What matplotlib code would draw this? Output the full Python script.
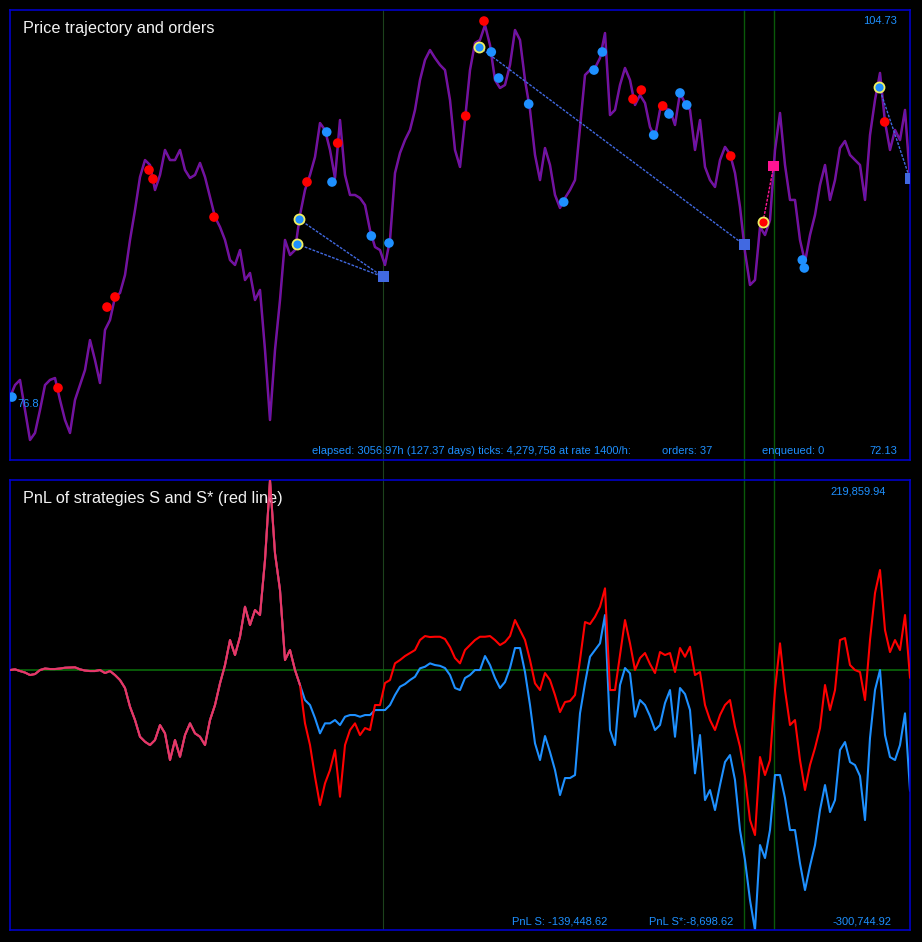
import numpy as np
import matplotlib
matplotlib.use("Agg")
import matplotlib.pyplot as plt

plt.rcParams['font.family'] = ['Liberation Sans', 'DejaVu Sans']

#### Data ####

HOURS = 3056.97

# price path, sampled evenly over the elapsed hours
price = [
    76.69, 77.56, 77.93, 75.75, 73.58, 74.09, 75.75, 77.56, 77.93, 78.07,
    76.48, 75.03, 74.09, 76.48, 77.56, 78.65, 80.82, 79.37, 77.71, 81.55,
    82.27, 83.94, 84.23, 85.53, 88.07, 90.24, 92.63, 93.86, 93.50, 91.69,
    92.78, 94.59, 93.86, 93.86, 94.59, 93.14, 92.56, 92.78, 93.65, 92.63,
    91.18, 89.73, 89.01, 88.07, 86.62, 86.26, 87.34, 85.17, 85.68, 83.72,
    84.45, 80.10, 75.03, 80.10, 83.72, 88.07, 86.98, 87.34, 89.88, 91.69,
    92.78, 94.08, 96.54, 96.04, 94.59, 92.56, 96.76, 92.78, 91.33, 91.33,
    91.11, 90.60, 88.79, 87.56, 87.34, 86.26, 88.07, 92.92, 94.37, 95.31,
    96.04, 97.49, 99.66, 101.11, 101.83, 101.25, 100.75, 100.38, 98.21, 94.59,
    93.36, 96.76, 100.38, 102.34, 102.56, 103.64, 102.19, 99.66, 99.08, 99.30,
    100.75, 103.28, 102.56, 99.66, 97.49, 94.23, 92.41, 94.73, 93.50, 91.33,
    90.39, 91.11, 91.69, 92.41, 96.25, 100.02, 100.38, 100.53, 101.25, 103.06,
    97.12, 97.49, 99.30, 100.53, 99.66, 97.85, 98.57, 97.99, 96.25, 95.53,
    97.49, 97.63, 97.49, 96.40, 98.72, 97.99, 97.49, 94.59, 96.76, 93.36,
    92.41, 91.91, 93.86, 94.81, 94.30, 92.92, 90.46, 87.20, 84.81, 85.17,
    89.01, 88.43, 89.52, 94.59, 97.27, 93.50, 90.97, 90.97, 88.07, 86.47,
    88.43, 89.88, 92.05, 93.50, 90.97, 92.41, 94.73, 95.24, 94.23, 93.86,
    93.50, 90.97, 95.67, 98.21, 100.17, 96.62, 94.59, 96.04, 95.31, 97.49,
    92.49,
]

# PnL in thousands; S and S* coincide until the first divergence
pnl_shared_k = [
    0.0, 0.81, -1.16, -2.89, -5.78, -4.63, 0.0, 1.74, 1.16, 1.16,
    1.74, 2.66, 2.89, 3.12, 0.81, -0.58, -1.16, -1.16, 0.0, -3.47,
    -1.16, -5.78, -11.57, -20.82, -42.46, -57.85, -77.17, -82.95, -86.77, -80.98,
    -63.63, -73.23, -104.12, -80.98, -100.30, -75.20, -61.66, -73.23, -77.17, -86.77,
    -57.85, -40.49, -15.39, 5.78, 34.71, 17.35, 38.52, 73.23, 52.06, 69.41,
    63.63, 127.26, 219.86, 135.01, 92.55, 11.57, 23.14, 0.0, -17.35,
]
pnl_s_tail_k = [
    -34.71, -40.49, -55.53, -73.23, -61.66, -61.66, -57.85, -63.63, -54.03, -52.06,
    -52.06, -54.03, -52.06, -52.06, -46.28, -46.28, -46.28, -40.49, -28.92, -19.32,
    -16.20, -11.57, -7.75, 1.97, 3.82, 7.75, 5.78, 4.86, 2.31, -5.78,
    -20.82, -23.14, -9.26, -5.78, 0.0, 0.0, 16.20, 5.78, -9.26, -20.82,
    -13.88, 2.31, 25.45, 25.45, -2.31, -40.49, -84.80, -104.12, -76.36, -94.87,
    -115.69, -144.61, -124.95, -124.95, -121.47, -50.09, -15.39, 15.39, 23.14, 30.89,
    63.63, -69.41, -86.77, -17.35, 2.31, -3.82, -54.03, -34.71, -40.49, -53.22,
    -69.41, -63.63, -38.18, -23.14, -77.17, -20.82, -27.77, -46.28, -119.51, -75.20,
    -150.40, -138.83, -161.97, -133.04, -106.43, -98.34, -127.26, -185.10, -219.81, -266.09,
    -300.74, -202.46, -217.50, -185.10, -121.47, -121.47, -148.08, -185.10, -185.10, -223.63,
    -254.52, -226.75, -202.46, -161.97, -133.04, -164.28, -150.40, -92.55, -83.30, -106.43,
    -109.91, -122.63, -173.54, -78.67, -23.14, 0.0, -75.20, -100.65, -104.12, -86.77,
    -50.09, -139.45,
]
pnl_star_tail_k = [
    -61.66, -86.77, -123.44, -156.18, -131.08, -115.69, -92.55, -146.58, -86.77, -69.41,
    -61.66, -75.20, -67.10, -69.41, -40.49, -40.49, -15.04, -11.57, 7.75, 11.57,
    16.20, 19.67, 23.14, 34.71, 39.33, 38.18, 38.52, 38.52, 35.86, 26.61,
    13.88, 7.75, 23.14, 28.92, 34.71, 38.52, 38.52, 39.33, 34.71, 28.92,
    32.39, 39.33, 57.85, 46.28, 34.71, 11.57, -15.39, -23.14, -3.47, -11.57,
    -28.92, -48.59, -37.02, -35.86, -28.92, 11.57, 55.53, 53.22, 61.66, 73.23,
    94.52, -23.14, -23.14, 17.35, 57.85, 30.89, 0.0, 13.88, 19.67, 6.94,
    -3.47, 20.82, 17.35, 19.67, -2.31, 25.45, 15.39, 26.96, -5.78, -2.31,
    -40.49, -57.85, -69.41, -52.06, -40.49, -34.71, -65.60, -88.73, -123.44, -173.54,
    -190.89, -100.65, -121.47, -104.12, -23.14, 30.89, -23.14, -63.63, -57.85, -104.12,
    -138.83, -109.91, -90.24, -67.10, -17.35, -46.28, -23.14, 34.71, 37.02, 5.78,
    0.0, -2.31, -34.71, 34.71, 89.08, 115.69, 46.28, 20.82, 34.71, 23.14,
    63.63, -8.70,
]

# orders: time (h) and price
sell_t = [163.04, 329.47, 356.65, 472.13, 485.72, 692.91, 1008.80, 1113.08, 1547.85,
          1610.00, 2116.10, 2144.29, 2216.98, 2447.95, 2971.03]
sell_p = [77.35, 83.21, 83.94, 93.14, 92.49, 89.73, 92.27, 95.09, 97.05,
          103.93, 98.28, 98.93, 97.78, 94.15, 96.62]
buy_t = [6.79, 1075.71, 1093.71, 1227.20, 1287.32, 1634.80, 1659.93, 1761.83, 1880.71,
         1983.63, 2011.82, 2186.41, 2238.38, 2275.74, 2298.50, 2691.15, 2697.94]
buy_p = [76.69, 95.89, 92.27, 88.36, 87.85, 101.69, 99.80, 97.92, 90.82,
         100.38, 101.69, 95.67, 97.20, 98.72, 97.85, 86.62, 86.04]

# open positions and where they were closed
open_buy_t = [974.83, 980.61, 1594.04, 2951.67]
open_buy_p = [87.78, 89.59, 102.05, 99.15]
close_buy_t = [1267.96, 1267.96, 2494.14, HOURS]
close_buy_p = [85.39, 85.39, 87.71, 92.49]
open_sell_t = [2557.66]
open_sell_p = [89.37]
close_sell_t = [2593.98]
close_sell_p = [93.43]

#### Figure ####

BG = '#000000'
FRAME = '#0000c8'
TXT = '#1e90ff'

fig = plt.figure(figsize=(9.22, 9.42), dpi=100, facecolor=BG)
W, H = 922.0, 942.0
ax1 = fig.add_axes([10 / W, (H - 460) / H, 900 / W, 450 / H], facecolor=BG)
ax2 = fig.add_axes([10 / W, (H - 930) / H, 900 / W, 450 / H], facecolor=BG)

for ax in (ax1, ax2):
    ax.set_xticks([])
    ax.set_yticks([])
    for sp in ax.spines.values():
        sp.set_color(FRAME)
        sp.set_linewidth(1.2)
    ax.set_xlim(0, HOURS)

t_price = np.linspace(0, HOURS, len(price))
pnl_s = np.array(pnl_shared_k + pnl_s_tail_k)
pnl_star = np.array(pnl_shared_k + pnl_star_tail_k)
t_pnl = np.linspace(0, HOURS, len(pnl_s))

# closing times marked across both panels
gap = 20 / 450.0
ax1.axvline(close_buy_t[0], ymin=-gap, ymax=1, color='#1c421c', lw=0.8, clip_on=False, zorder=1)
ax2.axvline(close_buy_t[0], color='#1c421c', lw=0.8, zorder=1)
for t in (close_buy_t[2], close_sell_t[0]):
    ax1.axvline(t, ymin=-gap, ymax=1, color='#0a5a0a', lw=1.0, clip_on=False, zorder=1)
    ax2.axvline(t, color='#0a5a0a', lw=1.0, zorder=1)

## Price panel
ax1.set_ylim(72.13, 104.73)
ax1.plot(t_price, price, color='#8a0d94', lw=1.8, zorder=2)
ax1.plot(t_price, price, color='#4e1fb4', lw=0.6, zorder=2)

for i in range(len(open_buy_t)):
    ax1.plot([open_buy_t[i], close_buy_t[i]], [open_buy_p[i], close_buy_p[i]],
             color='#4169e1', lw=1.0, ls=(0, (2, 1)), zorder=3)
ax1.plot([open_sell_t[0], close_sell_t[0]], [open_sell_p[0], close_sell_p[0]],
         color='#ff1493', lw=1.0, ls=(0, (2, 1)), zorder=3)

ax1.scatter(sell_t, sell_p, s=48, color='#ff0000', edgecolors='none', zorder=4)
ax1.scatter(buy_t, buy_p, s=48, color='#1e90ff', edgecolors='none', zorder=4)
ax1.scatter(open_buy_t, open_buy_p, s=52, color='#1e90ff', edgecolors='#f0f060', linewidths=1.3, zorder=5)
ax1.scatter(open_sell_t, open_sell_p, s=52, color='#ff0000', edgecolors='#f0f060', linewidths=1.3, zorder=5)
ax1.scatter(close_buy_t, close_buy_p, s=62, marker='s', color='#4169e1', edgecolors='none', zorder=5)
ax1.scatter(close_sell_t, close_sell_p, s=62, marker='s', color='#ff1493', edgecolors='none', zorder=5)

ax1.annotate('76.8', (buy_t[0], buy_p[0]), xytext=(4, -5), textcoords='offset points',
             color=TXT, fontsize=8, ha='left', va='center', zorder=6)

ax1.text(13 / 900, 1 - 18 / 450, 'Price trajectory and orders', transform=ax1.transAxes,
         color='#f2f2f2', fontsize=11.7, ha='left', va='center')
ax1.text(887 / 900, 1 - 11 / 450, '104.73', transform=ax1.transAxes,
         color=TXT, fontsize=8, ha='right', va='center')
ax1.text(302 / 900, 9 / 450, 'elapsed: 3056.97h (127.37 days) ticks: 4,279,758 at rate 1400/h:',
         transform=ax1.transAxes, color=TXT, fontsize=8, ha='left', va='center')
ax1.text(652 / 900, 9 / 450, 'orders: 37', transform=ax1.transAxes,
         color=TXT, fontsize=8, ha='left', va='center')
ax1.text(752 / 900, 9 / 450, 'enqueued: 0', transform=ax1.transAxes,
         color=TXT, fontsize=8, ha='left', va='center')
ax1.text(887 / 900, 9 / 450, '72.13', transform=ax1.transAxes,
         color=TXT, fontsize=8, ha='right', va='center')

## PnL panel
ax2.set_ylim(-300.74492, 219.85994)
ax2.axhline(0, color='#0a6a0a', lw=1.2, zorder=1)
ax2.plot(t_pnl, pnl_s, color='#1e90ff', lw=1.5, zorder=2)
ax2.plot(t_pnl, pnl_star, color='#ff0000', lw=1.5, zorder=3)
n0 = len(pnl_shared_k)
ax2.plot(t_pnl[:n0], pnl_shared_k, color='#e23a6c', lw=1.4, zorder=4)

ax2.text(13 / 900, 1 - 18 / 450, 'PnL of strategies S and S* (red line)', transform=ax2.transAxes,
         color='#f2f2f2', fontsize=11.7, ha='left', va='center')
ax2.text(876 / 900, 1 - 11 / 450, '219,859.94', transform=ax2.transAxes,
         color=TXT, fontsize=8, ha='right', va='center')
ax2.text(502 / 900, 9 / 450, 'PnL S: -139,448.62', transform=ax2.transAxes,
         color=TXT, fontsize=8, ha='left', va='center')
ax2.text(639 / 900, 9 / 450, 'PnL S*:-8,698.62', transform=ax2.transAxes,
         color=TXT, fontsize=8, ha='left', va='center')
ax2.text(881 / 900, 9 / 450, '-300,744.92', transform=ax2.transAxes,
         color=TXT, fontsize=8, ha='right', va='center')

fig.savefig('out.png', dpi=100, facecolor=BG)
